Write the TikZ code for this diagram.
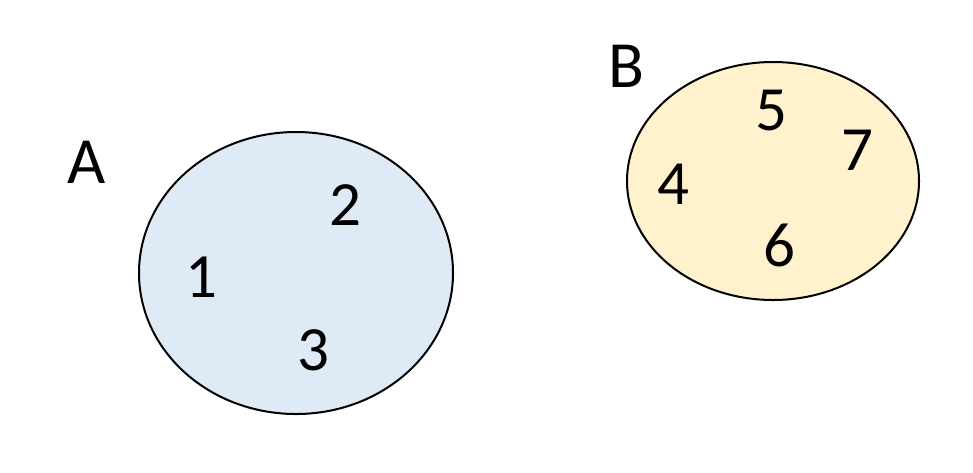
\documentclass[tikz,border=0pt]{standalone}
\usepackage{fontspec}
\setmainfont{Carlito}
\definecolor{fillA}{HTML}{DEEAF6}
\definecolor{fillB}{HTML}{FFF2CC}
\begin{document}
\begin{tikzpicture}[x=1pt,y=-1pt,
  lbl/.style={font=\fontsize{66}{72}\selectfont,inner sep=0pt},
  elem/.style={font=\fontsize{63}{68}\selectfont,inner sep=0pt}]
\useasboundingbox (0,0) rectangle (973,472);
\draw[line width=2pt,fill=fillA] (296,273) ellipse [x radius=157, y radius=141];
\draw[line width=2pt,fill=fillB] (773,181) ellipse [x radius=146, y radius=119];
\node[lbl] (A) at (87,162) {A};
\node[lbl] (B) at (626,66) {B};
\node[elem] (n1) at (201,277) {1};
\node[elem] (n2) at (345,205) {2};
\node[elem] (n3) at (313,350) {3};
\node[elem] (n4) at (673,184) {4};
\node[elem] (n5) at (771,110) {5};
\node[elem] (n7) at (857,150) {7};
\node[elem] (n6) at (779,245) {6};
\end{tikzpicture}
\end{document}
